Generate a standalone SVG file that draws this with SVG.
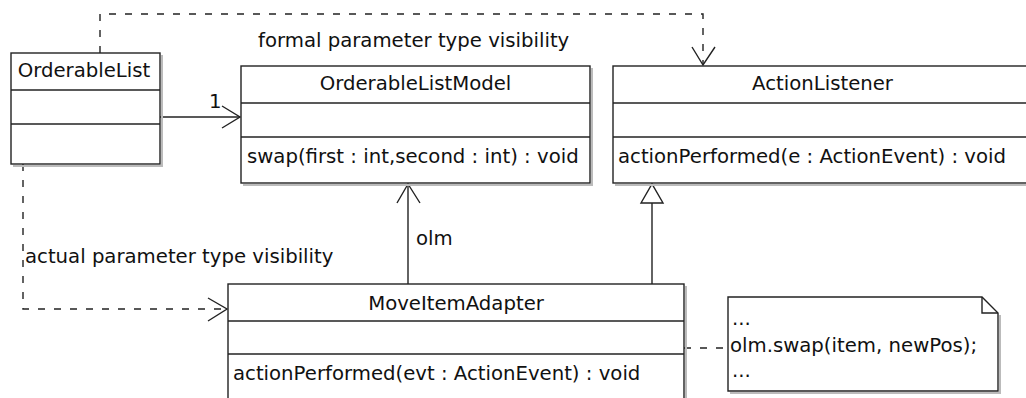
<svg xmlns="http://www.w3.org/2000/svg" width="1026" height="398" viewBox="0 0 1026 398">
<style>
text{font-family:"DejaVu Sans","Liberation Sans",sans-serif;font-size:19.7px;fill:#111}
.box{fill:#fff;stroke:#222;stroke-width:1.4}
.shadow{fill:none;stroke:#bbb;stroke-width:2}
.div{stroke:#222;stroke-width:1.4}
.ln{fill:none;stroke:#222;stroke-width:1.4}
.dash{fill:none;stroke:#222;stroke-width:1.4;stroke-dasharray:7 9}
.mid{text-anchor:middle}
</style>
<g id="connectors">
<path class="dash" d="M100,53 V14 H703 V64"/>
<path class="ln" d="M692,47 L703,65 L715,47"/>
<path class="dash" d="M23,164 V309 H226"/>
<path class="ln" d="M208,298 L227,309 L208,321"/>
<path class="ln" d="M160,117 H240"/>
<path class="ln" d="M222,106 L240,117 L222,128"/>
<path class="ln" d="M408,284 V184"/>
<path class="ln" d="M397,203 L408,184 L420,203"/>
<path class="ln" d="M652,284 V203"/>
<path class="ln" d="M641,203 L652,184 L663,203 Z" style="fill:#fff"/>
<path class="dash" d="M684,348 H728"/>
<text x="209" y="108">1</text>
<text x="258" y="47">formal parameter type visibility</text>
<text x="25" y="263">actual parameter type visibility</text>
<text x="416" y="245">olm</text>
</g>
<g id="OrderableList">
<path class="shadow" d="M162,55 V166 H13"/>
<rect class="box" x="11" y="53" width="149" height="111"/>
<line class="div" x1="11" y1="90" x2="160" y2="90"/>
<line class="div" x1="11" y1="124" x2="160" y2="124"/>
<text class="mid" x="84" y="77">OrderableList</text>
</g>
<g id="OrderableListModel">
<path class="shadow" d="M592,68 V185 H243"/>
<rect class="box" x="241" y="66" width="349" height="117"/>
<line class="div" x1="241" y1="103" x2="590" y2="103"/>
<line class="div" x1="241" y1="137" x2="590" y2="137"/>
<text class="mid" x="415.5" y="90">OrderableListModel</text>
<text x="247" y="163">swap(first : int,second : int) : void</text>
</g>
<g id="ActionListener">
<path class="shadow" d="M1034,68 V185 H615"/>
<rect class="box" x="613" y="66" width="419" height="117"/>
<line class="div" x1="613" y1="103" x2="1032" y2="103"/>
<line class="div" x1="613" y1="137" x2="1032" y2="137"/>
<text class="mid" x="822.5" y="90">ActionListener</text>
<text x="618" y="163">actionPerformed(e : ActionEvent) : void</text>
</g>
<g id="MoveItemAdapter">
<path class="shadow" d="M686,286 V400"/>
<rect class="box" x="228" y="284" width="456" height="130"/>
<line class="div" x1="228" y1="321" x2="684" y2="321"/>
<line class="div" x1="228" y1="354" x2="684" y2="354"/>
<text class="mid" x="456" y="310">MoveItemAdapter</text>
<text x="233" y="380">actionPerformed(evt : ActionEvent) : void</text>
</g>
<g id="note">
<path class="shadow" d="M1000,315 V393 H730"/>
<path class="box" d="M728,297 H982 L998,313 V391 H728 Z"/>
<path class="ln" d="M982,297 V313 H998"/>
<text x="732" y="325">...</text>
<text x="730" y="352">olm.swap(item, newPos);</text>
<text x="732" y="377">...</text>
</g>
</svg>
